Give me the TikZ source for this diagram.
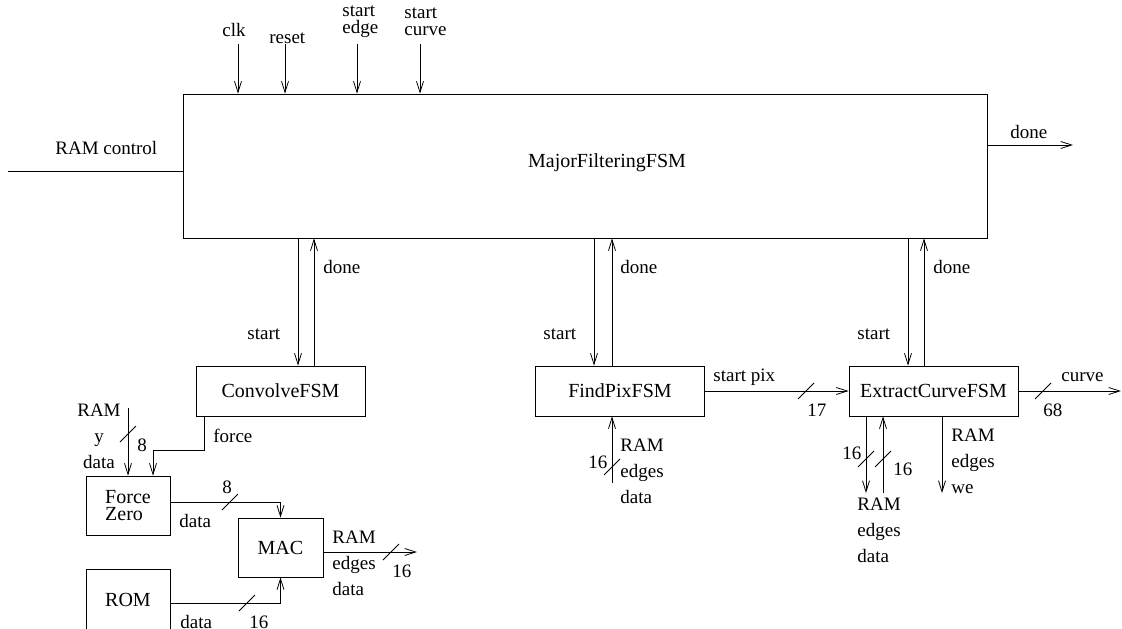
\documentclass[tikz,border=0pt]{standalone}
\usepackage{fontspec}
\setmainfont{Liberation Serif}
\usetikzlibrary{arrows.meta}

% bus width mark: short slash across a wire
\newcommand{\busmark}[2]{\draw (#1-8,#2+8) -- (#1+8,#2-8);}

\begin{document}
\begin{tikzpicture}[x=1pt, y=-1pt,
    >={Straight Barb[length=11pt,width=7pt]}, line width=0.8pt,
    fsm/.style ={draw, inner sep=0pt, align=left, font=\fontsize{20}{17}\selectfont},
    sub/.style ={fsm, minimum width=169, minimum height=50},
    ttl/.style ={inner sep=0pt, font=\fontsize{20}{17}\selectfont},
    lbl/.style ={inner sep=0pt, anchor=west, align=left, font=\fontsize{19}{17}\selectfont},
    stk/.style ={lbl, font=\fontsize{19}{26}\selectfont},
  ]
  \useasboundingbox (0,0) rectangle (1122,629);

  % --- top level FSM ---
  \node[fsm, minimum width=804, minimum height=144] (major) at (585,166) {};
  \node[ttl] (majortxt) at (607,163) {MajorFilteringFSM};

  \coordinate (clkin)   at (238,44);
  \coordinate (rstin)   at (285,44);
  \coordinate (edgein)  at (357,44);
  \coordinate (curvein) at (420,44);
  \foreach \c in {clkin,rstin,edgein,curvein}
    \draw[->] (\c) -- (\c |- major.north);
  \node[lbl] (clklbl)   at (222,30) {clk};
  \node[lbl] (rstlbl)   at (269,38) {reset};
  \node[lbl] (edgelbl)  at (342,22) {start\\edge};
  \node[lbl] (curvelbl) at (404,22) {start\\curve};

  \coordinate (ramctl) at (8,171);
  \draw (ramctl) -- (ramctl -| major.west);
  \node[lbl] (ramctllbl) at (55,148) {RAM control};

  \coordinate (majdone) at (1073,145);
  \draw[->] (majdone -| major.east) -- (majdone);
  \node[lbl] (majdonelbl) at (1010,132) {done};

  % --- sub FSMs ---
  \node[sub] (conv) at (280.5,391) {ConvolveFSM};
  \node[sub] (fpx)  at (620,391)   {FindPixFSM};
  \node[sub] (ecv)  at (933.5,391) {ExtractCurveFSM};

  \draw[->] ([xshift=17.5]conv.north |- major.south) -- ([xshift=17.5]conv.north);
  \draw[->] ([xshift=33.5]conv.north) -- ([xshift=33.5]conv.north |- major.south);
  \node[lbl] (convstart) at (247,334) {start};
  \node[lbl] (convdone)  at (323,267) {done};

  \draw[->] ([xshift=-26]fpx.north |- major.south) -- ([xshift=-26]fpx.north);
  \draw[->] ([xshift=-8]fpx.north) -- ([xshift=-8]fpx.north |- major.south);
  \node[lbl] (fpxstart) at (543,334) {start};
  \node[lbl] (fpxdone)  at (620,267) {done};

  \draw[->] ([xshift=-25.5]ecv.north |- major.south) -- ([xshift=-25.5]ecv.north);
  \draw[->] ([xshift=-9.5]ecv.north) -- ([xshift=-9.5]ecv.north |- major.south);
  \node[lbl] (ecvstart) at (857,334) {start};
  \node[lbl] (ecvdone)  at (933,267) {done};

  % start pix bus
  \draw[->] (fpx.east) -- (ecv.west);
  \busmark{806}{391}
  \node[lbl] (pixlbl) at (713,377) {start pix};
  \node[lbl] (pixw)   at (807,410) {17};

  % curve out
  \coordinate (curveout) at (1121,391);
  \draw[->] (ecv.east) -- (curveout);
  \busmark{1043}{391}
  \node[lbl] (curvelbl2) at (1061,377) {curve};
  \node[lbl] (curvew)    at (1043,410) {68};

  % FindPix RAM input
  \coordinate (fpin) at (612,483);
  \draw[->] (fpin) -- (fpin |- fpx.south);
  \busmark{612}{467}
  \node[lbl] (fpinw)   at (588,462) {16};
  \node[stk] (fpinlbl) at (620,471) {RAM\\edges\\data};

  % ExtractCurve RAM ports
  \coordinate (ecdout) at (866,493);
  \coordinate (ecdin)  at (883,493);
  \coordinate (ecwe)   at (942,493);
  \draw[->] (ecdout |- ecv.south) -- (ecdout);
  \draw[->] (ecdin) -- (ecdin |- ecv.south);
  \draw[->] (ecwe |- ecv.south) -- (ecwe);
  \busmark{866}{459}
  \busmark{883}{459}
  \node[lbl] (ecdoutw) at (842,453) {16};
  \node[lbl] (ecdinw)  at (893,469) {16};
  \node[stk] (ecdlbl)  at (857,530) {RAM\\edges\\data};
  \node[stk] (ecwelbl) at (951,461) {RAM\\edges\\we};

  % --- convolution datapath ---
  \node[fsm, minimum width=84, minimum height=59] (fz)  at (128,505.5) {Force\\Zero};
  \node[fsm, minimum width=85, minimum height=59] (mac) at (280.5,547.5) {MAC};
  \node[fsm, minimum width=84, minimum height=62] (rom) at (128,600) {ROM};

  \coordinate (ramy) at (128,408);
  \draw[->] (ramy) -- (ramy |- fz.north);
  \busmark{128}{434}
  \node[stk, anchor=center, align=center] (ramylbl) at (99,436) {RAM\\y\\data};
  \node[lbl] (ramyw) at (137,445) {8};

  \coordinate (fzf) at (153,450);
  \draw[->] ([xshift=-76.5]conv.south) |- (fzf) -- (fzf |- fz.north);
  \node[lbl] (forcelbl) at (213,436) {force};

  \draw[->] ([yshift=3.5]fz.east) -| (mac.north);
  \busmark{230}{502}
  \node[lbl] (fzw)   at (222,487) {8};
  \node[lbl] (fzlbl) at (179,521) {data};

  \draw[->] ([yshift=-3]rom.east) -| (mac.south);
  \busmark{247}{603}
  \node[lbl] (romlbl) at (180,622) {data};
  \node[lbl] (romw)   at (249,622) {16};

  \coordinate (macout) at (417,552);
  \draw[->] (macout -| mac.east) -- (macout);
  \busmark{391}{552}
  \node[stk] (maclbl) at (332,563) {RAM\\edges\\data};
  \node[lbl] (macw)   at (392,571) {16};
\end{tikzpicture}
\end{document}
